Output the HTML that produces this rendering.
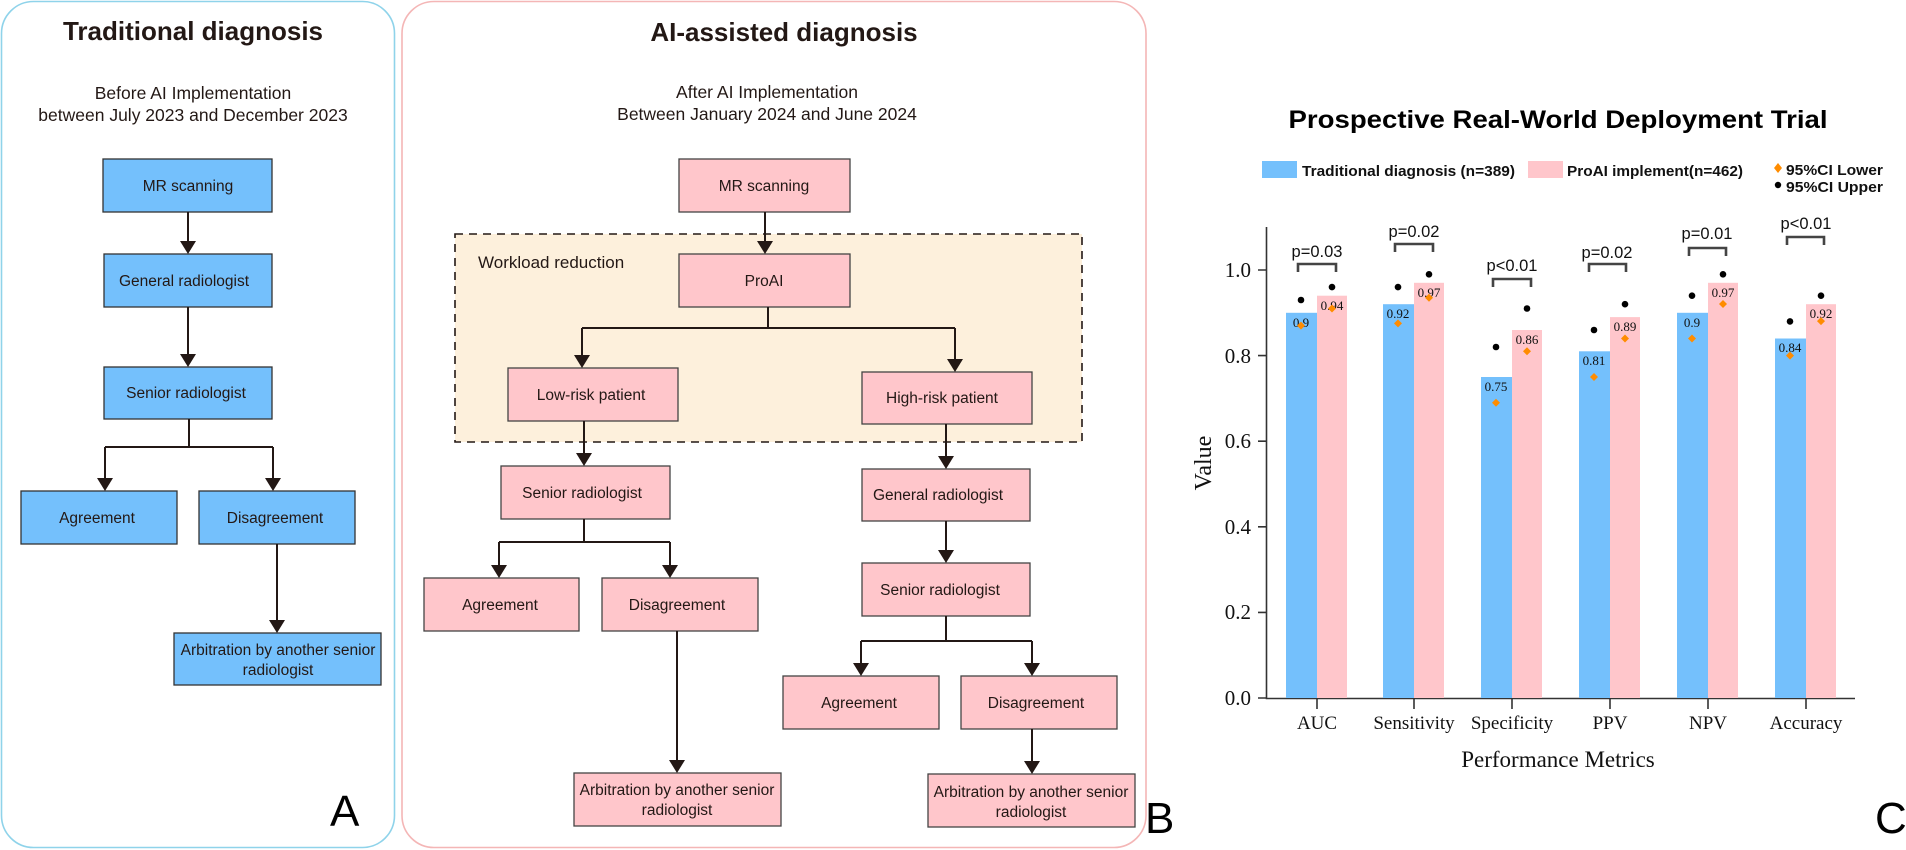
<!DOCTYPE html>
<html><head><meta charset="utf-8"><style>
html,body{margin:0;padding:0;background:#fff;}
svg{display:block;}
.b{font-family:"Liberation Sans",Arial,sans-serif;font-size:15.5px;fill:#231815;text-anchor:middle;}
.s{font-family:"Liberation Serif","Times New Roman",serif;fill:#111;}
</style></head><body>
<svg width="1906" height="850" viewBox="0 0 1906 850" xmlns="http://www.w3.org/2000/svg">
<defs>
<g id="ah"><polygon points="-8,-13 8,-13 0,0" fill="#231815"/></g>
</defs>
<!-- Panel A -->
<rect x="1.5" y="1.5" width="393" height="846" rx="32" fill="#fff" stroke="#8fd3ea" stroke-width="1.6"/>
<text x="193" y="40" font-family="Liberation Sans, sans-serif" font-weight="bold" font-size="26" text-anchor="middle" fill="#231815">Traditional diagnosis</text>
<text x="193" y="99" font-family="Liberation Sans, sans-serif" font-size="17.5" text-anchor="middle" fill="#231815">Before AI Implementation</text>
<text x="193" y="121" font-family="Liberation Sans, sans-serif" font-size="17.5" text-anchor="middle" fill="#231815">between July 2023 and December 2023</text>
<g fill="#74c0fc" stroke="#333" stroke-width="1.3">
<rect x="103" y="159" width="169" height="53"/>
<rect x="104" y="254" width="168" height="53"/>
<rect x="104" y="367" width="168" height="52"/>
<rect x="21" y="491" width="156" height="53"/>
<rect x="199" y="491" width="156" height="53"/>
<rect x="174" y="633" width="207" height="52"/>
</g>
<g stroke="#231815" stroke-width="2" fill="none">
<path d="M188 212V242M188 307V355M189 419V447M105 447H273M105 447V479M273 447V479M277 544V621"/>
</g>
<use href="#ah" x="188" y="254"/><use href="#ah" x="188" y="367"/>
<use href="#ah" x="105" y="491"/><use href="#ah" x="273" y="491"/><use href="#ah" x="277" y="633"/>
<text class="b" x="188" y="191">MR scanning</text>
<text class="b" x="184" y="286">General radiologist</text>
<text class="b" x="186" y="398">Senior radiologist</text>
<text class="b" x="97" y="523">Agreement</text>
<text class="b" x="275" y="523">Disagreement</text>
<text class="b" x="278" y="655">Arbitration by another senior</text>
<text class="b" x="278" y="675">radiologist</text>
<text x="330" y="826" font-family="Liberation Sans, sans-serif" font-size="44" fill="#000">A</text>

<!-- Panel B -->
<rect x="402" y="1.5" width="744" height="846" rx="32" fill="#fff" stroke="#f4b6b6" stroke-width="1.6"/>
<text x="784" y="41" font-family="Liberation Sans, sans-serif" font-weight="bold" font-size="26" text-anchor="middle" fill="#231815">AI-assisted diagnosis</text>
<text x="767" y="98" font-family="Liberation Sans, sans-serif" font-size="17.5" text-anchor="middle" fill="#231815">After AI Implementation</text>
<text x="767" y="120" font-family="Liberation Sans, sans-serif" font-size="17.5" text-anchor="middle" fill="#231815">Between January 2024 and June 2024</text>
<rect x="455" y="234" width="627" height="208" fill="#fdf0dc" stroke="#231815" stroke-width="1.6" stroke-dasharray="8,6"/>
<text x="478" y="268" font-family="Liberation Sans, sans-serif" font-size="17" fill="#231815">Workload reduction</text>
<g fill="#ffc6cb" stroke="#444" stroke-width="1.3">
<rect x="679" y="159" width="171" height="53"/>
<rect x="679" y="254" width="171" height="53"/>
<rect x="508" y="368" width="170" height="53"/>
<rect x="862" y="372" width="170" height="52"/>
<rect x="501" y="466" width="169" height="53"/>
<rect x="424" y="578" width="155" height="53"/>
<rect x="602" y="578" width="156" height="53"/>
<rect x="574" y="773" width="207" height="53"/>
<rect x="862" y="469" width="168" height="52"/>
<rect x="862" y="563" width="168" height="53"/>
<rect x="783" y="676" width="156" height="53"/>
<rect x="961" y="676" width="156" height="53"/>
<rect x="928" y="774" width="207" height="53"/>
</g>
<g stroke="#231815" stroke-width="2" fill="none">
<path d="M765 212V242M768 307V328M582 328H955M582 328V356M955 328V360"/>
<path d="M584 421V454M584 519V542M499 542H670M499 542V566M670 542V566M677 631V761"/>
<path d="M946 424V457M946 521V551M946 616V641M861 641H1032M861 641V664M1032 641V664M1032 729V762"/>
</g>
<use href="#ah" x="765" y="254"/><use href="#ah" x="582" y="368"/><use href="#ah" x="955" y="372"/>
<use href="#ah" x="584" y="466"/><use href="#ah" x="499" y="578"/><use href="#ah" x="670" y="578"/><use href="#ah" x="677" y="773"/>
<use href="#ah" x="946" y="469"/><use href="#ah" x="946" y="563"/><use href="#ah" x="861" y="676"/><use href="#ah" x="1032" y="676"/><use href="#ah" x="1032" y="774"/>
<text class="b" x="764" y="191">MR scanning</text>
<text class="b" x="764" y="286">ProAI</text>
<text class="b" x="591" y="400">Low-risk patient</text>
<text class="b" x="942" y="403">High-risk patient</text>
<text class="b" x="582" y="498">Senior radiologist</text>
<text class="b" x="500" y="610">Agreement</text>
<text class="b" x="677" y="610">Disagreement</text>
<text class="b" x="677" y="795">Arbitration by another senior</text>
<text class="b" x="677" y="815">radiologist</text>
<text class="b" x="938" y="500">General radiologist</text>
<text class="b" x="940" y="595">Senior radiologist</text>
<text class="b" x="859" y="708">Agreement</text>
<text class="b" x="1036" y="708">Disagreement</text>
<text class="b" x="1031" y="797">Arbitration by another senior</text>
<text class="b" x="1031" y="817">radiologist</text>
<text x="1145" y="833" font-family="Liberation Sans, sans-serif" font-size="44" fill="#000">B</text>

<!-- Panel C -->
<text x="1558" y="128" font-family="Liberation Sans, sans-serif" font-weight="bold" font-size="25" text-anchor="middle" fill="#000" textLength="539" lengthAdjust="spacingAndGlyphs">Prospective Real-World Deployment Trial</text>
<rect x="1262" y="161" width="35" height="17" fill="#74c0fc"/>
<text x="1302" y="176" font-family="Liberation Sans, sans-serif" font-weight="bold" font-size="15" fill="#111" textLength="213" lengthAdjust="spacingAndGlyphs">Traditional diagnosis (n=389)</text>
<rect x="1528" y="161" width="35" height="17" fill="#ffc6cb"/>
<text x="1567" y="176" font-family="Liberation Sans, sans-serif" font-weight="bold" font-size="15" fill="#111" textLength="176" lengthAdjust="spacingAndGlyphs">ProAI implement(n=462)</text>
<polygon points="1778,163 1782,168 1778,173 1774,168" fill="#ff8c00"/>
<text x="1786" y="175" font-family="Liberation Sans, sans-serif" font-weight="bold" font-size="15" fill="#111" textLength="97" lengthAdjust="spacingAndGlyphs">95%CI Lower</text>
<circle cx="1778" cy="185" r="3.2" fill="#000"/>
<text x="1786" y="192" font-family="Liberation Sans, sans-serif" font-weight="bold" font-size="15" fill="#111" textLength="97" lengthAdjust="spacingAndGlyphs">95%CI Upper</text>

<g id="bars"></g>
<!-- axes -->
<path d="M1266.5 227V698.5H1855" stroke="#333" stroke-width="1.6" fill="none"/>
<g stroke="#333" stroke-width="1.6">
<path d="M1258 698H1266M1258 612.4H1266M1258 526.8H1266M1258 441.2H1266M1258 355.6H1266M1258 270H1266"/>
<path d="M1317 698V709M1414 698V709M1512 698V709M1610 698V709M1708 698V709M1806 698V709"/>
</g>
<g class="s" font-size="21" text-anchor="end">
<text x="1251" y="705">0.0</text><text x="1251" y="619">0.2</text><text x="1251" y="534">0.4</text>
<text x="1251" y="448">0.6</text><text x="1251" y="363">0.8</text><text x="1251" y="277">1.0</text>
</g>
<text class="s" x="1211" y="463" font-size="24" text-anchor="middle" transform="rotate(-90 1211 463)" dy="0">Value</text>
<g class="s" font-size="19" text-anchor="middle">
<text x="1317" y="729">AUC</text><text x="1414" y="729">Sensitivity</text><text x="1512" y="729">Specificity</text>
<text x="1610" y="729">PPV</text><text x="1708" y="729">NPV</text><text x="1806" y="729">Accuracy</text>
</g>
<text class="s" x="1558" y="767" font-size="23" text-anchor="middle">Performance Metrics</text>
<text x="1875" y="833" font-family="Liberation Sans, sans-serif" font-size="44" fill="#000">C</text>

<!-- bars data -->
<g>
<!-- helper computed: y=698-428v, blue x=c-31..c, pink c..c+30 -->
<!-- AUC c=1317 -->
<rect x="1286" y="312.8" width="31" height="385.2" fill="#74c0fc"/><rect x="1317" y="295.7" width="30" height="402.3" fill="#ffc6cb"/>
<!-- Sens c=1414 -->
<rect x="1383" y="304.2" width="31" height="393.8" fill="#74c0fc"/><rect x="1414" y="282.8" width="30" height="415.2" fill="#ffc6cb"/>
<!-- Spec c=1512 -->
<rect x="1481" y="377" width="31" height="321" fill="#74c0fc"/><rect x="1512" y="330" width="30" height="368" fill="#ffc6cb"/>
<!-- PPV c=1610 -->
<rect x="1579" y="351.3" width="31" height="346.7" fill="#74c0fc"/><rect x="1610" y="317.1" width="30" height="380.9" fill="#ffc6cb"/>
<!-- NPV c=1708 -->
<rect x="1677" y="312.8" width="31" height="385.2" fill="#74c0fc"/><rect x="1708" y="282.8" width="30" height="415.2" fill="#ffc6cb"/>
<!-- Acc c=1806 -->
<rect x="1775" y="338.5" width="31" height="359.5" fill="#74c0fc"/><rect x="1806" y="304.2" width="30" height="393.8" fill="#ffc6cb"/>
</g>
<g class="s" font-size="13" text-anchor="middle">
<text x="1301" y="327">0.9</text><text x="1332" y="310">0.94</text>
<text x="1398" y="318">0.92</text><text x="1429" y="297">0.97</text>
<text x="1496" y="391">0.75</text><text x="1527" y="344">0.86</text>
<text x="1594" y="365">0.81</text><text x="1625" y="331">0.89</text>
<text x="1692" y="327">0.9</text><text x="1723" y="297">0.97</text>
<text x="1790" y="352">0.84</text><text x="1821" y="318">0.92</text>
</g>
<!-- upper dots -->
<g fill="#000">
<circle cx="1301" cy="300" r="3.3"/><circle cx="1332" cy="287.1" r="3.3"/>
<circle cx="1398" cy="287.1" r="3.3"/><circle cx="1429" cy="274.3" r="3.3"/>
<circle cx="1496" cy="347" r="3.3"/><circle cx="1527" cy="308.5" r="3.3"/>
<circle cx="1594" cy="330" r="3.3"/><circle cx="1625" cy="304.2" r="3.3"/>
<circle cx="1692" cy="295.7" r="3.3"/><circle cx="1723" cy="274.3" r="3.3"/>
<circle cx="1790" cy="321.4" r="3.3"/><circle cx="1821" cy="295.7" r="3.3"/>
</g>
<!-- lower diamonds -->
<g fill="#ff8c00">
<polygon points="1301,321.6 1305,325.6 1301,329.6 1297,325.6"/>
<polygon points="1332,304.5 1336,308.5 1332,312.5 1328,308.5"/>
<polygon points="1398,319.4 1402,323.4 1398,327.4 1394,323.4"/>
<polygon points="1429,293.7 1433,297.7 1429,301.7 1425,297.7"/>
<polygon points="1496,398.7 1500,402.7 1496,406.7 1492,402.7"/>
<polygon points="1527,347.3 1531,351.3 1527,355.3 1523,351.3"/>
<polygon points="1594,373 1598,377 1594,381 1590,377"/>
<polygon points="1625,334.5 1629,338.5 1625,342.5 1621,338.5"/>
<polygon points="1692,334.5 1696,338.5 1692,342.5 1688,338.5"/>
<polygon points="1723,300 1727,304 1723,308 1719,304"/>
<polygon points="1790,351.6 1794,355.6 1790,359.6 1786,355.6"/>
<polygon points="1821,317.1 1825,321.1 1821,325.1 1817,321.1"/>
</g>
<!-- brackets -->
<g stroke="#444" stroke-width="2.6" fill="none">
<path d="M1298 272V264H1336V272"/>
<path d="M1395 252V244H1433V252"/>
<path d="M1493 287V279H1531V287"/>
<path d="M1589 272V264H1626V272"/>
<path d="M1689 256V248H1726V256"/>
<path d="M1787 245V237H1824V245"/>
</g>
<g font-family="Liberation Sans, sans-serif" font-size="16.5" text-anchor="middle" fill="#111">
<text x="1317" y="257">p=0.03</text>
<text x="1414" y="237">p=0.02</text>
<text x="1512" y="271">p&lt;0.01</text>
<text x="1607" y="258">p=0.02</text>
<text x="1707" y="239">p=0.01</text>
<text x="1806" y="229">p&lt;0.01</text>
</g>
</svg>
</body></html>
